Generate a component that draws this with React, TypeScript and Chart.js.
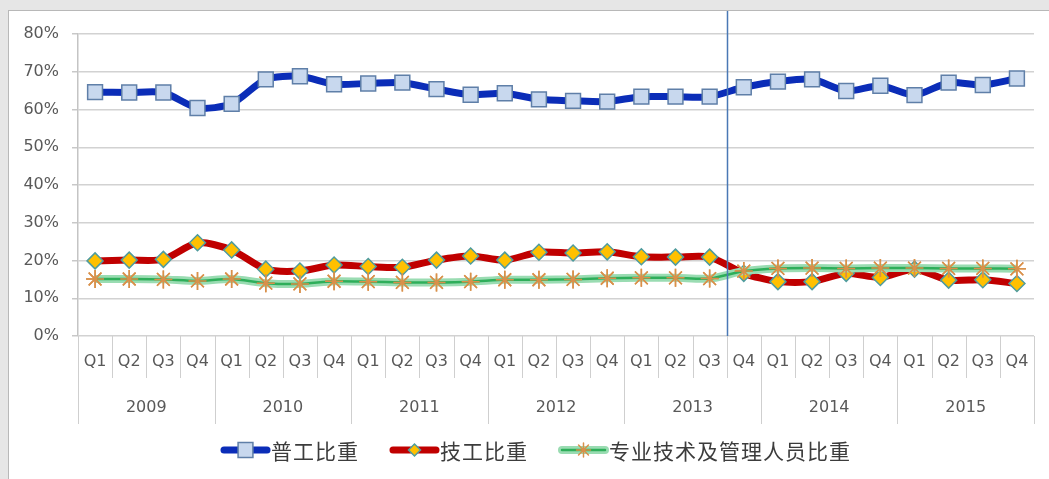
import React, { useEffect, useRef } from 'react';
import { Chart, registerables } from 'chart.js';
import { drawPoint } from 'chart.js/helpers';

Chart.register(...registerables);

const years = ['2009', '2010', '2011', '2012', '2013', '2014', '2015'];
const quarterNames = ['Q1', 'Q2', 'Q3', 'Q4'];
const seriesNames = ['普工比重', '技工比重', '专业技术及管理人员比重'];

const generalWorkers = [64.6, 64.5, 64.5, 60.4, 61.5, 68.0, 68.8, 66.7, 66.9, 67.1, 65.4, 63.9, 64.3, 62.7, 62.3, 62.1, 63.4, 63.4, 63.4, 65.9, 67.4, 68.0, 64.9, 66.3, 63.8, 67.1, 66.5, 68.2];
const skilledWorkers = [19.9, 20.1, 20.3, 24.7, 22.8, 17.7, 17.2, 18.8, 18.4, 18.2, 20.1, 21.2, 20.1, 22.2, 22.0, 22.3, 21.0, 20.9, 20.9, 16.6, 14.4, 14.4, 16.6, 15.5, 17.7, 14.8, 14.9, 13.9];
const professionals = [15.1, 15.1, 15.0, 14.6, 15.1, 14.0, 13.8, 14.5, 14.4, 14.2, 14.2, 14.4, 14.9, 14.9, 15.0, 15.3, 15.4, 15.4, 15.2, 17.2, 17.9, 18.0, 17.9, 18.0, 18.0, 17.9, 17.9, 17.8];

const yMin = 0;
const yMax = 80;
const yStep = 10;
// vertical marker sits between 2013 Q3 (index 18) and 2013 Q4 (index 19)
const markerAfterIndex = 18;

const categories = years.flatMap((y) => quarterNames.map((q) => `${y} ${q}`));

const AXIS_FONT = '16px "DejaVu Sans"';
const AXIS_COLOR = '#595959';
const SEP_COLOR = '#cfcfcf';

const customPlugin = {
  id: 'customDecor',
  afterDatasetDraw(chart: any, args: any) {
    const ds = chart.data.datasets[args.index];
    if (!ds.innerColor) return;
    const ctx = chart.ctx;
    const meta = args.meta;
    ctx.save();
    ctx.beginPath();
    meta.dataset.path(ctx);
    ctx.lineWidth = ds.innerWidth;
    ctx.strokeStyle = ds.innerColor;
    ctx.lineJoin = 'round';
    ctx.lineCap = 'round';
    ctx.stroke();
    ctx.restore();
    meta.data.forEach((p: any) => p.draw(ctx, chart.chartArea));
  },
  afterDatasetsDraw(chart: any) {
    const ctx = chart.ctx;
    const xs = chart.scales.x;
    const area = chart.chartArea;
    // vertical marker line
    const mx = Math.round(xs.getPixelForValue(markerAfterIndex + 0.5)) + 0.5;
    ctx.save();
    ctx.strokeStyle = '#4a78b5';
    ctx.lineWidth = 1.5;
    ctx.beginPath();
    ctx.moveTo(mx, 0);
    ctx.lineTo(mx, area.bottom);
    ctx.stroke();
    ctx.restore();
  },
  afterDraw(chart: any) {
    const ctx = chart.ctx;
    const xs = chart.scales.x;
    const area = chart.chartArea;
    const n = categories.length;
    ctx.save();
    // separators
    ctx.strokeStyle = SEP_COLOR;
    ctx.lineWidth = 1;
    ctx.beginPath();
    for (let i = 0; i <= n; i++) {
      const px = Math.round(xs.getPixelForValue(i - 0.5)) + 0.5;
      const isYear = i % quarterNames.length === 0;
      ctx.moveTo(px, area.bottom);
      ctx.lineTo(px, area.bottom + (isYear ? 88 : 42));
    }
    ctx.stroke();
    // quarter labels
    ctx.fillStyle = AXIS_COLOR;
    ctx.font = AXIS_FONT;
    ctx.textAlign = 'center';
    ctx.textBaseline = 'middle';
    categories.forEach((c, i) => {
      const q = quarterNames[i % quarterNames.length];
      ctx.fillText(q, xs.getPixelForValue(i), area.bottom + 26);
    });
    // year labels
    years.forEach((y, k) => {
      const a = xs.getPixelForValue(k * 4 - 0.5);
      const b = xs.getPixelForValue(k * 4 + 3.5);
      ctx.fillText(y, (a + b) / 2, area.bottom + 72);
    });
    // legend
    const ly = 439;
    let x = 212;
    ctx.font = '21px "Noto Sans CJK SC"';
    (ctx as any).letterSpacing = '1px';
    ctx.textAlign = 'left';
    chart.data.datasets.forEach((ds: any, i: number) => {
      const x0 = x;
      const x1 = x + 49;
      ctx.lineCap = 'round';
      ctx.strokeStyle = ds.borderColor;
      ctx.lineWidth = ds.borderWidth;
      ctx.beginPath();
      ctx.moveTo(x0 + 3, ly);
      ctx.lineTo(x1 - 3, ly);
      ctx.stroke();
      if (ds.innerColor) {
        ctx.strokeStyle = ds.innerColor;
        ctx.lineWidth = ds.innerWidth;
        ctx.beginPath();
        ctx.moveTo(x0 + 3, ly);
        ctx.lineTo(x1 - 3, ly);
        ctx.stroke();
      }
      ctx.fillStyle = ds.pointBackgroundColor;
      ctx.strokeStyle = ds.pointBorderColor;
      ctx.lineWidth = ds.pointBorderWidth;
      drawPoint(ctx, { pointStyle: ds.pointStyle, radius: ds.legendRadius, rotation: 0, borderWidth: ds.pointBorderWidth } as any, (x0 + x1) / 2, ly);
      ctx.fillStyle = '#3c3c3c';
      ctx.fillText(seriesNames[i], x1 + 1, ly + 1);
      const w = ctx.measureText(seriesNames[i]).width;
      x = x1 + 1 + w + 31;
    });
    ctx.restore();
  },
};

export default function App() {
  const ref = useRef<HTMLCanvasElement | null>(null);
  useEffect(() => {
    if (!ref.current) return;
    const chart = new Chart(ref.current, {
      type: 'line',
      data: {
        labels: categories,
        datasets: [
          {
            label: seriesNames[0],
            data: generalWorkers,
            borderColor: '#0b2db8',
            borderWidth: 7,
            tension: 0.25,
            pointStyle: 'rect',
            pointRadius: 10.5,
            legendRadius: 10.5,
            pointBackgroundColor: '#c8d8ee',
            pointBorderColor: '#5f7fa8',
            pointBorderWidth: 1.5,
            order: 3,
          } as any,
          {
            label: seriesNames[1],
            data: skilledWorkers,
            borderColor: '#c00000',
            borderWidth: 7,
            tension: 0.25,
            pointStyle: 'rectRot',
            pointRadius: 8,
            legendRadius: 6,
            pointBackgroundColor: '#ffc000',
            pointBorderColor: '#4f9c9e',
            pointBorderWidth: 1.5,
            order: 2,
          } as any,
          {
            label: seriesNames[2],
            data: professionals,
            borderColor: '#9adcb2',
            borderWidth: 8,
            innerColor: '#2eae5a',
            innerWidth: 2.5,
            tension: 0.25,
            pointStyle: 'star',
            pointRadius: 9,
            legendRadius: 7,
            pointBackgroundColor: '#d9904a',
            pointBorderColor: '#d9904a',
            pointBorderWidth: 1.5,
            order: 1,
          } as any,
        ],
      },
      options: {
        animation: false,
        responsive: false,
        events: [],
        layout: { padding: { left: 0, top: 23, right: 15, bottom: 143 } },
        plugins: { legend: { display: false }, tooltip: { enabled: false } },
        scales: {
          x: { type: 'category', display: false, offset: true },
          y: {
            min: yMin,
            max: yMax,
            afterFit: (s: any) => { s.width = 69; },
            ticks: {
              stepSize: yStep,
              color: AXIS_COLOR,
              font: { family: 'DejaVu Sans', size: 16 },
              padding: 13,
              callback: (v: any) => `${v}%`,
            },
            grid: { color: '#d2d2d2', lineWidth: 1.5, tickLength: 6, tickColor: '#c8c8c8' },
            border: { display: true, color: '#c4c4c4', width: 1.5 },
          },
        },
      },
      plugins: [customPlugin],
    });
    return () => chart.destroy();
  }, []);
  return (
    <div style={{ position: 'absolute', left: 0, top: 0, width: 1049, height: 479, background: '#e6e6e6', overflow: 'hidden' }}>
      <div style={{ position: 'absolute', left: 8, top: 10, width: 1041, height: 469, background: '#ffffff', borderLeft: '1px solid #b8b8b8', borderTop: '1px solid #b8b8b8' }}>
        <canvas ref={ref} width={1040} height={468} style={{ display: 'block', width: 1040, height: 468 }} />
      </div>
    </div>
  );
}
